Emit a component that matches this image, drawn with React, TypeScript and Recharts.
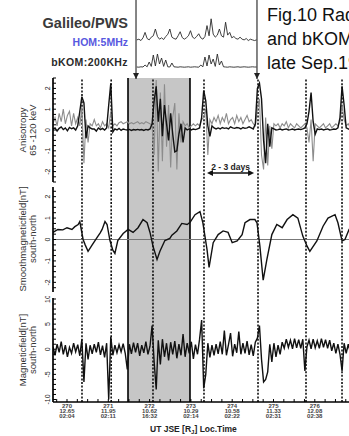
import React from 'react';
import { LineChart, Line, XAxis, YAxis, ReferenceLine, ReferenceArea } from 'recharts';

const FONT = '"Liberation Sans", Arial, Helvetica, sans-serif';
const W = 400;
const X_DOMAIN: [number, number] = [269.661, 278.063];

// ---- time axis (day of year 1996) ----
const DAY_TICKS = [270, 271, 272, 273, 274, 275, 276];
const DAY_LABELS = [
  ['270', '12.65', '02:04'],
  ['271', '11.95', '02:11'],
  ['272', '10.62', '16:32'],
  ['273', '10.29', '02:14'],
  ['274', '10.58', '02:22'],
  ['275', '11.33', '02:31'],
  ['276', '12.08', '02:38'],
];

// event markers
const EVENT_LINES = [270.363, 271.07, 272.082, 273.317, 274.625, 275.787, 276.659];
const SHADE = [271.477, 272.978];
const PWS_EDGES = [271.671, 274.6];

// ---- sampled series (start day, step in days) ----
const SAMPLE_START = 269.66;
const SAMPLE_STEP = 0.05;

const anisoBlack = [
  0.05, 0.1, -0.05, 0.08, 0.15, 0.02, 0.1, -0.04, 0.12, 0.06,
  0.1, 0.0, 0.2, 0.9, 1.6, 1.3, -0.4, 0.2, 0.1, 0.05,
  0.05, -0.05, 0.1, 0.02, 0.08, 0.0, 0.1, 1.2, 2.25, -0.1,
  0.05, 0.0, 0.08, -0.02, 0.05, 0.02, 0.0, 0.03, -0.02, 0.02,
  0.0, 0.03, 0.0, 0.02, -0.02, 0.03, 0.0, 0.05, 0.3, 1.4,
  2.1, 0.4, 1.5, -0.3, 1.2, 0.3, -0.5, 0.8, -0.2, -1.05,
  -1.0, -0.2, 0.3, -0.6, 0.1, 0.0, 0.05, 0.0, 0.05, 0.02,
  0.05, 0.1, 0.6, 1.9, 1.4, 0.2, -0.3, 0.2, 0.1, 0.05,
  0.1, 0.05, 0.12, 0.08, 0.1, 0.05, 0.15, 0.1, 0.08, 0.12,
  0.1, 0.05, 0.12, 0.08, 0.1, 0.15, 0.1, 0.05, 0.3, 2.0,
  2.25, 1.5, -0.5, -1.6, 0.3, -0.8, 0.1, 0.05, 0.0, 0.02,
  0.05, 0.0, 0.03, 0.05, 0.0, 0.02, 0.05, 0.0, 0.03, 0.05,
  0.02, 0.05, 0.1, 0.3, 0.9, 1.8, 0.4, -0.2, 0.05, 0.02,
  0.05, 0.0, 0.03, 0.05, 0.0, 0.02, 0.05, 0.03, 0.1, 0.6,
  2.1, 1.2, 0.1, 0.05, 0.0, 0.03,
];

const anisoGray = [
  0.3, 0.6, 0.2, 0.8, 0.4, 1.0, 0.3, 0.7, 0.9, 0.2,
  0.8, 0.3, 0.6, 0.2, 1.1, -1.6, 0.5, -0.6, 0.3, 0.2,
  0.5, 0.2, 0.3, 0.1, 0.4, 0.2, 0.3, 0.1, 0.9, 0.2,
  0.3, 0.2, 0.35, 0.4, 0.3, 0.35, 0.4, 0.3, 0.35, 0.3,
  0.35, 0.4, 0.3, 0.35, 0.3, 0.4, 0.35, 0.3, 0.2, -1.2,
  2.4, -2.0, 1.8, -1.5, 2.2, -0.8, 1.2, -1.8, 0.6, 1.3,
  -1.9, 0.8, -0.6, 0.4, 0.2, 0.3, 0.1, 0.2, 0.3, 0.2,
  0.3, 0.2, 0.5, 0.6, 1.0, -1.2, 0.5, 0.3, 0.6, 0.4,
  0.7, 0.3, 0.6, 0.4, 0.8, 0.3, 0.5, 0.6, 0.3, 0.7,
  0.4, 0.6, 0.3, 0.5, 0.7, 0.4, 0.5, 0.3, 0.2, 1.0,
  1.5, -1.2, -1.9, 0.6, -1.7, 0.2, -0.9, 0.3, 0.2, 0.3,
  0.1, 0.3, 0.2, 0.4, 0.1, 0.3, 0.2, 0.1, 0.3, 0.2,
  0.1, 0.2, 0.3, 0.1, -0.6, 0.5, -1.5, 0.3, 0.2, 0.1,
  0.2, 0.3, 0.1, 0.2, 0.3, 0.1, 0.2, 0.3, 0.2, 0.4,
  1.2, 0.5, 0.2, 0.3, 0.1, 0.2,
];

const magField = [
  0.5, -1.2, 1.0, -0.6, 1.5, -1.0, 0.8, -1.5, 0.4, -0.8,
  1.2, -0.5, 0.9, -1.3, 2.0, -6.5, 1.2, -2.0, 0.8, -0.9,
  1.0, -0.6, 1.4, -1.1, 0.7, -1.6, 1.2, -10.0, 2.5, -1.2,
  0.8, -0.7, 0.9, -0.5, 1.1, -0.8, -4.0, 1.0, -0.9, 1.3,
  -0.6, 1.2, -1.3, 0.8, -0.7, 1.5, -1.0, 0.6, 4.7, -2.5,
  -8.0, 1.8, -3.0, 2.0, -1.5, 1.2, -2.2, 1.4, -1.0, 1.6,
  -1.8, 1.0, -1.2, 3.0, -1.5, 1.2, -0.8, 1.5, -1.9, 0.9,
  -1.0, 2.0, 5.8, -7.8, -5.0, 1.2, -1.6, 0.8, -1.2, 1.0,
  -0.9, 1.5, -1.0, 3.7, -1.2, 0.9, 3.2, -1.4, 1.0, -0.7,
  3.5, -1.0, 1.2, -0.8, 1.6, -1.1, 0.9, -1.3, 1.4, 2.2,
  4.7, -2.0, -6.5, -6.0, -4.5, 1.0, -2.5, 1.2, -1.5, 0.8,
  -1.0, 1.4, 0.2, 2.0, 0.4, 1.8, 0.1, 2.1, 0.3, 1.9,
  0.2, 2.0, -4.3, 0.5, 1.8, 0.1, 2.0, 0.3, 1.7, 0.2,
  2.1, 0.4, 1.9, 0.2, 1.8, -0.3, 1.2, -0.8, 1.0, -1.0,
  -4.3, 1.2, -0.8, 1.0, -0.6, 0.9,
];

// ---- smoothed magnetic field ----
const smoothTimes = [
  269.66, 269.78, 269.90, 270.00, 270.12, 270.19, 270.27, 270.31, 270.39, 270.44,
  270.51, 270.61, 270.73, 270.80, 270.85, 270.92, 270.97, 271.04, 271.11, 271.16,
  271.23, 271.36, 271.48, 271.60, 271.72, 271.84, 271.94, 272.01, 272.08, 272.18,
  272.25, 272.37, 272.49, 272.54, 272.66, 272.78, 272.91, 272.98, 273.10, 273.22,
  273.29, 273.39, 273.44, 273.54, 273.66, 273.78, 273.90, 274.00, 274.12, 274.24,
  274.31, 274.43, 274.55, 274.60, 274.67, 274.75, 274.84, 274.96, 275.08, 275.21,
  275.33, 275.47, 275.59, 275.71, 275.81, 275.88, 276.05, 276.20, 276.32, 276.49,
  276.56, 276.66, 276.73, 276.83, 276.97,
];
const smoothValues = [
  0.33, 0.47, 0.45, 0.55, 0.47, 0.6, 0.7, 0.84, 0.0, -0.25,
  -0.55, -0.25, 0.1, 0.3, 0.47, 0.84, 0.7, -0.05, -0.5, -0.65,
  -0.05, 0.28, 0.47, 0.33, 0.55, 0.93, 0.78, 0.33, -0.3, -0.93,
  -0.55, -0.05, 0.05, 0.2, 0.4, 0.75, 0.7, 0.8, 1.16, 1.3,
  0.78, -0.46, -1.3, -0.15, 0.23, 0.4, 0.33, -0.15, -0.07, 0.23,
  0.78, 0.93, 0.93, 0.78, -0.3, -1.9, -0.93, 0.23, 0.7, 0.55,
  0.93, 1.16, 1.0, 0.16, -0.3, -0.55, -0.07, 0.62, 1.0, 1.16,
  0.78, -0.07, 0.0, 0.47, 0.7,
];

// ---- Galileo/PWS radio intensities (arbitrary units) ----
const PWS_START = 271.69;
const PWS_STEP = 0.05;
const homValues = [
  1.8, 2.0, 1.6, 2.4, 4.0, 2.2, 1.8, 2.6, 3.0, 5.0,
  2.8, 2.0, 2.4, 1.9, 2.8, 3.4, 5.0, 2.6, 2.2, 2.0,
  3.0, 4.2, 2.5, 2.0, 2.4, 3.0, 4.5, 2.6, 2.2, 2.8,
  3.6, 2.4, 2.0, 2.8, 6.0, 3.0, 8.0, 3.5, 2.6, 3.2,
  5.0, 3.0, 2.6, 7.0, 3.2, 4.0, 2.4, 2.8, 2.2, 2.0,
  2.6, 2.0, 1.8, 2.2, 1.6, 2.0, 1.8, 1.6, 1.8,
];
const bkomValues = [
  0.5, 0.4, 0.6, 0.5, 1.5, 0.6, 3.0, 0.8, 6.5, 1.0,
  7.0, 2.0, 5.0, 0.8, 4.0, 0.6, 0.5, 2.5, 0.6, 0.5,
  0.4, 0.6, 0.5, 0.4, 0.5, 0.6, 0.4, 0.5, 0.6, 0.5,
  0.4, 1.5, 0.6, 5.5, 1.0, 6.5, 2.0, 4.5, 0.8, 7.0,
  1.5, 3.5, 0.6, 0.5, 0.4, 0.6, 0.5, 0.4, 0.5, 0.6,
  0.4, 0.5, 0.6, 0.5, 0.4, 0.5, 0.6, 0.5, 0.5,
];

// ---- built tables ----
const sampledData = anisoBlack.map((v, i) => ({
  t: +(SAMPLE_START + i * SAMPLE_STEP).toFixed(3),
  black: v,
  gray: anisoGray[i],
  mf: magField[i],
}));
const smoothData = smoothTimes.map((t, i) => ({ t, v: smoothValues[i] }));
const pwsData = homValues.map((v, i) => ({
  t: +(PWS_START + i * PWS_STEP).toFixed(3),
  hom: v,
  bkom: bkomValues[i],
}));

const range = (lo: number, hi: number, step: number) => {
  const out: number[] = [];
  for (let v = lo; v <= hi + 1e-9; v += step) out.push(+v.toFixed(3));
  return out;
};
const X_TICKS = range(269.75, 278.0, 0.25);
const P1_TICKS = range(-2.5, 2.5, 0.25);
const P2_TICKS = range(-2.25, 2.25, 0.25);
const P3_TICKS = range(-10, 10, 1);
const P1_LABELS = [-2, -1, 0, 1, 2];
const P2_LABELS = [-2, -1, 0, 1, 2];
const P3_LABELS = [-10, -5, 0, 5, 10];

const AXIS_LINE = { stroke: '#000', strokeWidth: 1.7 };
const TICK_LINE = { stroke: '#000', strokeWidth: 1 };

const makeYTick = (labels: number[]) => (props: any) => {
  const { x, y, payload } = props;
  if (!labels.includes(payload.value)) return <g />;
  return (
    <text
      x={x}
      y={y}
      transform={`rotate(-90 ${x} ${y})`}
      textAnchor="middle"
      fontSize={7}
      fill="#222"
      fontFamily={FONT}
    >
      {payload.value}
    </text>
  );
};

const DayTick = (props: any) => {
  const { x, y, payload } = props;
  const idx = DAY_TICKS.indexOf(payload.value);
  if (idx < 0) return <g />;
  return (
    <g>
      {DAY_LABELS[idx].map((s, k) => (
        <text
          key={k}
          x={x}
          y={y + 3 + k * 5}
          textAnchor="middle"
          fontSize={6}
          fontWeight="bold"
          fill="#444"
          fontFamily={FONT}
        >
          {s}
        </text>
      ))}
    </g>
  );
};

function Panel(props: any) {
  const { top, plotH, domain, yTicks, yLabels, data, bottomLabels = false, children } = props;
  const mt = 2;
  const mb = 2;
  const axisH = bottomLabels ? 24 : 0;
  const h = plotH + mt + mb + axisH;
  return (
    <div style={{ position: 'absolute', left: 0, top: top - mt, width: W, height: h }}>
      <LineChart width={W} height={h} data={data} margin={{ top: mt, right: 0, bottom: mb, left: 0 }}>
        <XAxis
          dataKey="t"
          type="number"
          domain={X_DOMAIN}
          allowDataOverflow
          ticks={X_TICKS}
          interval={0}
          tickSize={-3}
          tickMargin={6}
          height={axisH}
          axisLine={AXIS_LINE}
          tickLine={TICK_LINE}
          tick={bottomLabels ? DayTick : false}
        />
        <XAxis
          xAxisId="top"
          orientation="top"
          dataKey="t"
          type="number"
          domain={X_DOMAIN}
          allowDataOverflow
          ticks={X_TICKS}
          interval={0}
          tickSize={-3}
          height={0}
          axisLine={AXIS_LINE}
          tickLine={TICK_LINE}
          tick={false}
        />
        <YAxis
          type="number"
          domain={domain}
          allowDataOverflow
          ticks={yTicks}
          interval={0}
          width={53}
          tickSize={-3}
          tickMargin={6}
          axisLine={AXIS_LINE}
          tickLine={TICK_LINE}
          tick={makeYTick(yLabels)}
        />
        {children}
      </LineChart>
    </div>
  );
}

const ArrowHead = (p: any) => {
  const vb = p.viewBox || {};
  const x = vb.x;
  const yb = vb.y + vb.height;
  return <path d={`M${x - 3},${yb - 6} L${x + 3},${yb - 6} L${x},${yb} Z`} fill="#222" />;
};

const DoubleArrow = (p: any) => {
  const { x1, y1, x2, y2 } = p;
  return (
    <g>
      <line x1={x1 + 3} y1={y1} x2={x2 - 3} y2={y2} stroke="#111" strokeWidth={1.6} />
      <path d={`M${x1},${y1} L${x1 + 6},${y1 - 3} L${x1 + 6},${y1 + 3} Z`} fill="#111" />
      <path d={`M${x2},${y2} L${x2 - 6},${y2 - 3} L${x2 - 6},${y2 + 3} Z`} fill="#111" />
    </g>
  );
};

const SIDE_LABELS = [
  { cy: 130, lines: ['Anisotropy', '65 -120 keV'] },
  { cy: 239, lines: ['Smoothmagneticfield[nT]', 'south-north'] },
  { cy: 350, lines: ['Magneticfield[nT]', 'south-north'] },
];

export default function App() {
  return (
    <div
      style={{
        position: 'absolute',
        left: 0,
        top: 0,
        width: 349,
        height: 436,
        overflow: 'hidden',
        background: '#fff',
        fontFamily: FONT,
      }}
    >
      {/* shading and event lines behind the panels */}
      <div style={{ position: 'absolute', left: 0, top: 78, width: W, height: 324 }}>
        <LineChart width={W} height={324} data={smoothData} margin={{ top: 0, right: 0, bottom: 0, left: 53 }}>
          <XAxis dataKey="t" type="number" domain={X_DOMAIN} allowDataOverflow hide />
          <YAxis type="number" domain={[-3, 3]} allowDataOverflow hide />
          <ReferenceArea x1={SHADE[0]} x2={SHADE[1]} y1={-3} y2={3} fill="#c6c6c6" fillOpacity={1} stroke="none" />
          <Line dataKey="v" stroke="none" dot={false} isAnimationActive={false} />
          {SHADE.map((t) => (
            <ReferenceLine key={'s' + t} x={t} stroke="#000" strokeWidth={1.6} />
          ))}
          {EVENT_LINES.map((t) => (
            <ReferenceLine key={'e' + t} x={t} stroke="#111" strokeWidth={1.6} strokeDasharray="2 1.6" />
          ))}
        </LineChart>
      </div>

      {/* PWS frame lines */}
      <div style={{ position: 'absolute', left: 0, top: 0, width: W, height: 79 }}>
        <LineChart width={W} height={79} data={pwsData} margin={{ top: 0, right: 0, bottom: 0, left: 53 }}>
          <XAxis dataKey="t" type="number" domain={X_DOMAIN} allowDataOverflow hide />
          <YAxis type="number" domain={[0, 10]} allowDataOverflow hide />
          <Line dataKey="hom" stroke="none" dot={false} isAnimationActive={false} />
          {PWS_EDGES.map((t) => (
            <ReferenceLine key={'p' + t} x={t} stroke="#333" strokeWidth={1.2} label={ArrowHead} />
          ))}
        </LineChart>
      </div>

      {/* HOM */}
      <div style={{ position: 'absolute', left: 0, top: 12, width: W, height: 34 }}>
        <LineChart width={W} height={34} data={pwsData} margin={{ top: 0, right: 0, bottom: 0, left: 53 }}>
          <XAxis dataKey="t" type="number" domain={X_DOMAIN} allowDataOverflow hide />
          <YAxis type="number" domain={[0, 10]} hide />
          <Line type="linear" dataKey="hom" stroke="#2a2a2a" strokeWidth={0.9} dot={false} isAnimationActive={false} />
        </LineChart>
      </div>

      {/* bKOM */}
      <div style={{ position: 'absolute', left: 0, top: 48, width: W, height: 20 }}>
        <LineChart width={W} height={20} data={pwsData} margin={{ top: 0, right: 0, bottom: 0, left: 53 }}>
          <XAxis dataKey="t" type="number" domain={X_DOMAIN} allowDataOverflow hide />
          <YAxis type="number" domain={[0, 10]} hide />
          <Line type="linear" dataKey="bkom" stroke="#2a2a2a" strokeWidth={0.9} dot={false} isAnimationActive={false} />
        </LineChart>
      </div>

      {/* Panel 1: anisotropy */}
      <Panel top={78} plotH={104} domain={[-2.5, 2.5]} yTicks={P1_TICKS} yLabels={P1_LABELS} data={sampledData}>
        <Line type="linear" dataKey="gray" stroke="#8c8c8c" strokeWidth={1.1} dot={false} isAnimationActive={false} />
        <Line type="linear" dataKey="black" stroke="#111" strokeWidth={1.4} dot={false} isAnimationActive={false} />
        <ReferenceLine
          segment={[
            { x: 273.39, y: -2.07 },
            { x: 274.53, y: -2.07 },
          ]}
          shape={DoubleArrow}
          label={{ value: '2 - 3 days', position: 'top', offset: 3, fontSize: 8.5, fontWeight: 'bold', fill: '#222' }}
        />
      </Panel>

      {/* Panel 2: smoothed magnetic field */}
      <Panel top={187} plotH={105} domain={[-2.45, 2.45]} yTicks={P2_TICKS} yLabels={P2_LABELS} data={smoothData}>
        <ReferenceLine y={0} stroke="#777" strokeWidth={1} />
        <Line type="linear" dataKey="v" stroke="#111" strokeWidth={1.4} dot={false} isAnimationActive={false} />
      </Panel>

      {/* Panel 3: magnetic field */}
      <Panel
        top={298}
        plotH={104}
        domain={[-10.5, 10.2]}
        yTicks={P3_TICKS}
        yLabels={P3_LABELS}
        data={sampledData}
        bottomLabels
      >
        <Line type="linear" dataKey="mf" stroke="#111" strokeWidth={1.4} dot={false} isAnimationActive={false} />
      </Panel>

      {/* text overlay */}
      <svg
        width={349}
        height={436}
        style={{ position: 'absolute', left: 0, top: 0, pointerEvents: 'none' }}
        fontFamily={FONT}
      >
        <text x={128} y={28} textAnchor="end" fontSize={14.5} fontWeight="bold" fill="#3a3a3a">
          Galileo/PWS
        </text>
        <text x={128} y={46} textAnchor="end" fontSize={10.5} fontWeight="bold" fill="#5858e0">
          HOM:5MHz
        </text>
        <text x={128} y={66} textAnchor="end" fontSize={10.5} fontWeight="bold" fill="#2a2a2a" letterSpacing={0.4}>
          bKOM:200KHz
        </text>
        <text fontSize={18} fill="#111">
          <tspan x={267} y={21}>Fig.10 Radio HOM</tspan>
          <tspan x={267} y={45}>and bKOM in</tspan>
          <tspan x={267} y={69}>late Sep.1996</tspan>
        </text>
        {SIDE_LABELS.map((lab) =>
          lab.lines.map((s, k) => {
            const x = 26 + k * 10;
            return (
              <text
                key={lab.cy + s}
                x={x}
                y={lab.cy}
                transform={`rotate(-90 ${x} ${lab.cy})`}
                textAnchor="middle"
                fontSize={9.5}
                fill="#333"
              >
                {s}
              </text>
            );
          })
        )}
        <text x={150} y={432} fontSize={8.5} fontWeight="bold" fill="#222">
          UT JSE [R
          <tspan fontSize={6} dy={2}>J</tspan>
          <tspan dy={-2}>]  Loc.Time</tspan>
        </text>
      </svg>
    </div>
  );
}
